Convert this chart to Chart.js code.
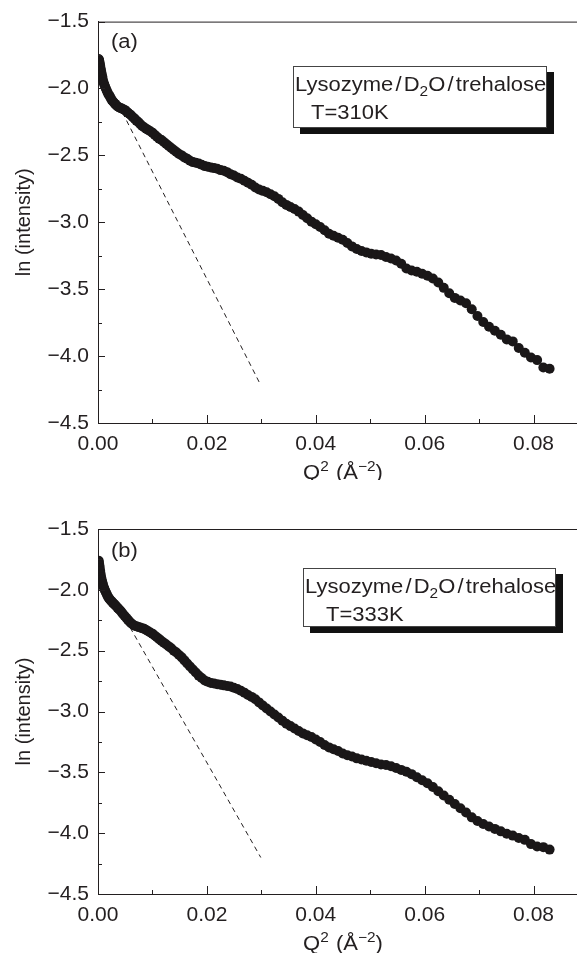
<!DOCTYPE html>
<html><head><meta charset="utf-8">
<title>Lysozyme/D2O/trehalose – ln(intensity) vs Q²</title>
<script src="https://cdn.jsdelivr.net/npm/chart.js@4.4.1/dist/chart.umd.min.js"></script>
<style>
html,body{margin:0;padding:0;background:#fff;overflow:hidden;width:577px;height:953px}
canvas{position:absolute;left:0}
</style></head><body>
<canvas id="ca" width="600" height="480" style="top:0"></canvas>
<canvas id="cb" width="600" height="473" style="top:480px"></canvas>
<script>
/* ─── DATA ──────────────────────────────────────────── */
// Q² grid (Å⁻²), shared by both temperatures
const Q2=[
  0.0001,0.000144,0.000196,0.000256,0.000324,0.0004,0.000484,0.000576,0.000676,0.000784,
  0.0009,0.001024,0.001156,0.001296,0.001444,0.0016,0.001764,0.001936,0.002116,0.002304,
  0.0025,0.002704,0.002916,0.003136,0.003364,0.0036,0.003844,0.004096,0.004356,0.004624,
  0.0049,0.005184,0.005476,0.005776,0.006084,0.0064,0.006724,0.007056,0.007396,0.007744,
  0.0081,0.008464,0.008836,0.009216,0.009604,0.01,0.010404,0.010816,0.011236,0.011664,
  0.0121,0.012544,0.012996,0.013456,0.013924,0.0144,0.014884,0.015376,0.015876,0.016384,
  0.0169,0.017424,0.017956,0.018496,0.019044,0.0196,0.020164,0.020736,0.021316,0.021904,
  0.0225,0.023104,0.023716,0.024336,0.024964,0.0256,0.026244,0.026896,0.027556,0.028224,
  0.0289,0.029584,0.030276,0.030976,0.031684,0.0324,0.033124,0.033856,0.034596,0.035344,
  0.0361,0.036864,0.037636,0.038416,0.039204,0.04,0.040804,0.041616,0.042436,0.043264,
  0.0441,0.044944,0.045796,0.046656,0.047524,0.0484,0.049284,0.050176,0.051076,0.051984,
  0.0529,0.053824,0.054756,0.055696,0.056644,0.0576,0.058564,0.059536,0.060516,0.061504,
  0.0625,0.063504,0.064516,0.065536,0.066564,0.0676,0.068644,0.069696,0.070756,0.071824,
  0.0729,0.073984,0.075076,0.076176,0.077284,0.0784,0.079524,0.080656,0.081796,0.082944
];
// ln(intensity) at T=310K
const LN_310=[
  -1.78,-1.785,-1.79,-1.80,-1.815,-1.83,-1.85,-1.87,-1.89,-1.91,
  -1.935,-1.955,-1.97,-1.985,-2.0,-2.015,-2.03,-2.045,-2.055,-2.07,
  -2.085,-2.095,-2.105,-2.115,-2.125,-2.135,-2.14,-2.145,-2.15,-2.155,
  -2.16,-2.17,-2.18,-2.19,-2.20,-2.215,-2.225,-2.24,-2.25,-2.265,
  -2.28,-2.29,-2.30,-2.31,-2.32,-2.33,-2.345,-2.36,-2.375,-2.385,
  -2.40,-2.415,-2.43,-2.445,-2.46,-2.475,-2.49,-2.50,-2.515,-2.525,
  -2.54,-2.55,-2.555,-2.56,-2.57,-2.58,-2.585,-2.59,-2.595,-2.60,
  -2.61,-2.615,-2.625,-2.64,-2.65,-2.665,-2.675,-2.69,-2.705,-2.72,
  -2.74,-2.755,-2.765,-2.775,-2.79,-2.805,-2.825,-2.85,-2.87,-2.885,
  -2.90,-2.92,-2.945,-2.97,-2.995,-3.015,-3.035,-3.06,-3.085,-3.10,
  -3.115,-3.13,-3.155,-3.18,-3.20,-3.215,-3.225,-3.235,-3.24,-3.245,
  -3.26,-3.27,-3.285,-3.31,-3.345,-3.36,-3.37,-3.385,-3.40,-3.42,
  -3.45,-3.49,-3.53,-3.565,-3.585,-3.605,-3.65,-3.70,-3.745,-3.78,
  -3.81,-3.84,-3.875,-3.89,-3.94,-3.975,-4.01,-4.03,-4.085,-4.095
];
// ln(intensity) at T=333K
const LN_333=[
  -1.76,-1.77,-1.785,-1.80,-1.82,-1.845,-1.87,-1.895,-1.915,-1.935,
  -1.955,-1.975,-1.99,-2.005,-2.02,-2.035,-2.05,-2.065,-2.075,-2.085,
  -2.095,-2.105,-2.115,-2.125,-2.135,-2.148,-2.16,-2.17,-2.185,-2.20,
  -2.215,-2.23,-2.245,-2.26,-2.275,-2.285,-2.295,-2.30,-2.305,-2.31,
  -2.315,-2.32,-2.33,-2.34,-2.35,-2.36,-2.375,-2.39,-2.405,-2.42,
  -2.435,-2.45,-2.465,-2.48,-2.50,-2.515,-2.535,-2.555,-2.58,-2.605,
  -2.63,-2.655,-2.68,-2.705,-2.725,-2.745,-2.755,-2.765,-2.77,-2.775,
  -2.78,-2.785,-2.79,-2.795,-2.805,-2.815,-2.83,-2.845,-2.865,-2.88,
  -2.90,-2.925,-2.95,-2.975,-3.0,-3.025,-3.05,-3.075,-3.10,-3.12,
  -3.14,-3.16,-3.18,-3.195,-3.21,-3.23,-3.25,-3.275,-3.295,-3.31,
  -3.325,-3.345,-3.36,-3.37,-3.385,-3.395,-3.405,-3.415,-3.425,-3.435,
  -3.44,-3.45,-3.465,-3.48,-3.495,-3.515,-3.54,-3.565,-3.59,-3.62,
  -3.655,-3.69,-3.725,-3.76,-3.795,-3.83,-3.87,-3.90,-3.925,-3.945,
  -3.965,-3.985,-4.005,-4.02,-4.04,-4.055,-4.09,-4.11,-4.115,-4.135
];
// Guinier fit lines (dashed), end points
const FIT_310_X=[0.0045,0.0298], FIT_310_Y=[-2.18,-4.21];
const FIT_333_X=[0.0059,0.0299], FIT_333_Y=[-2.31,-4.20];
// axis ticks
const X_MAJOR=[0,0.02,0.04,0.06,0.08];
const X_TICK_LABELS=['0.00','0.02','0.04','0.06','0.08'];
const Y_MAJOR=[-4.5,-4,-3.5,-3,-2.5,-2,-1.5];
const Y_TICK_LABELS=['\u22124.5','\u22124.0','\u22123.5','\u22123.0','\u22122.5','\u22122.0','\u22121.5'];

/* ─── STYLE ─────────────────────────────────────────── */
const INK='#231f20', FONT='"Liberation Sans", Arial, Helvetica, sans-serif';
const SX=1.1; // original type is slightly wide

const lab=(majors,labels)=>v=>{const i=majors.findIndex(m=>Math.abs(m-v)<1e-6);return i<0?'':labels[i];};

// draw runs of text: [text,size,rise,gapAfter]
function rich(ctx,parts,x,y,center){
  let w=0;
  parts.forEach(p=>{ctx.font=p[1]+'px '+FONT;p.w=ctx.measureText(p[0]).width+(p[3]||0);w+=p.w;});
  ctx.save();ctx.translate(x,y);ctx.scale(SX,1);
  let cx=center?-w/2:0;
  parts.forEach(p=>{ctx.font=p[1]+'px '+FONT;ctx.fillText(p[0],cx,-p[2]);cx+=p.w;});
  ctx.restore();
}

/* ─── FRAME PLUGIN: inward ticks, top edge, labels, box ─ */
const frame={id:'frame',afterDraw(ch,args,o){
  const {ctx,chartArea:a,scales:{x,y}}=ch;
  ctx.save();
  ctx.strokeStyle=INK;ctx.lineWidth=1;
  ctx.beginPath();
  ctx.moveTo(a.left,a.top+.5);ctx.lineTo(a.right,a.top+.5);
  x.ticks.forEach(t=>{const px=Math.round(x.getPixelForValue(t.value))+.5,l=t.label?8:4;ctx.moveTo(px,a.bottom);ctx.lineTo(px,a.bottom-l);});
  y.ticks.forEach(t=>{const py=Math.round(y.getPixelForValue(t.value))+.5,l=t.label?7:4;ctx.moveTo(a.left,py);ctx.lineTo(a.left+l,py);});
  ctx.stroke();

  ctx.fillStyle=INK;ctx.textBaseline='alphabetic';
  // panel tag
  rich(ctx,[[o.tag,20,0]],o.tagX,o.tagY);
  // x title  Q² (Å⁻²)
  rich(ctx,[['Q',20,0],['2',14,8,1],[' (Å',20,0],['\u22122',14,8],[')',20,0]],(a.left+a.right)/2,o.titleY,true);

  // legend box with drop shadow
  const b=o.box;
  ctx.fillStyle='#111';ctx.fillRect(b.x+7,b.y+6,b.w,b.h);
  ctx.fillStyle='#fff';ctx.fillRect(b.x,b.y,b.w,b.h);
  ctx.strokeStyle='#444';ctx.strokeRect(b.x+.5,b.y+.5,b.w-1,b.h-1);
  ctx.fillStyle=INK;
  rich(ctx,[['Lysozyme',20,0,2],['/',20,0,2],['D',20,0],['2',14,-5],['O',20,0,2],['/',20,0,2],['trehalose',20,0]],b.x+2,b.y+25);
  rich(ctx,[[o.temp,20,0]],b.x+b.tx,b.y+53);
  ctx.restore();
}};

/* ─── PANELS ────────────────────────────────────────── */
function makePanel(id,ys,fx,fy,p){
  const pts=ys.map((v,i)=>({x:Q2[i],y:v}));
  const fit=fx.map((v,i)=>({x:v,y:fy[i]}));
  const tickFont={family:FONT,size:21};
  return new Chart(document.getElementById(id),{
    type:'scatter',
    data:{datasets:[
      {type:'line',data:fit,borderColor:INK,borderWidth:1,borderDash:[5,4],pointRadius:0,fill:false,order:2},
      {data:pts,pointRadius:5,pointBackgroundColor:'#1a1718',pointBorderWidth:0,clip:{left:0,top:6,right:6,bottom:6},order:1}
    ]},
    options:{responsive:false,animation:false,events:[],
      layout:{padding:{top:p.padTop,right:12,left:0,bottom:0}},
      plugins:{legend:{display:false},tooltip:{enabled:false},frame:p},
      scales:{
        x:{type:'linear',min:0,max:0.09,afterFit:s=>{s.height=p.xH;},
           grid:{display:false,drawTicks:false},border:{display:true,color:INK,width:1},
           ticks:{stepSize:0.01,autoSkip:false,maxRotation:0,padding:9,color:INK,font:tickFont,callback:lab(X_MAJOR,X_TICK_LABELS)}},
        y:{type:'linear',min:-4.5,max:-1.5,afterFit:s=>{s.width=98;},
           grid:{display:false,drawTicks:false},border:{display:true,color:INK,width:1},
           title:{display:true,text:'ln (intensity)',color:INK,font:{family:FONT,size:20},padding:{top:12,bottom:0}},
           ticks:{stepSize:0.25,autoSkip:false,padding:9,color:INK,font:tickFont,callback:lab(Y_MAJOR,Y_TICK_LABELS)}}
      }},
    plugins:[frame]
  });
}

makePanel('ca',LN_310,FIT_310_X,FIT_310_Y,{padTop:21,xH:57,tag:'(a)',tagX:111,tagY:48,titleY:479,
  temp:'T=310K',box:{x:293,y:66,w:254,h:62,tx:18}});
makePanel('cb',LN_333,FIT_333_X,FIT_333_Y,{padTop:49,xH:59,tag:'(b)',tagX:111,tagY:77,titleY:470,
  temp:'T=333K',box:{x:303,y:88,w:253,h:59,tx:23}});
</script>
</body></html>
